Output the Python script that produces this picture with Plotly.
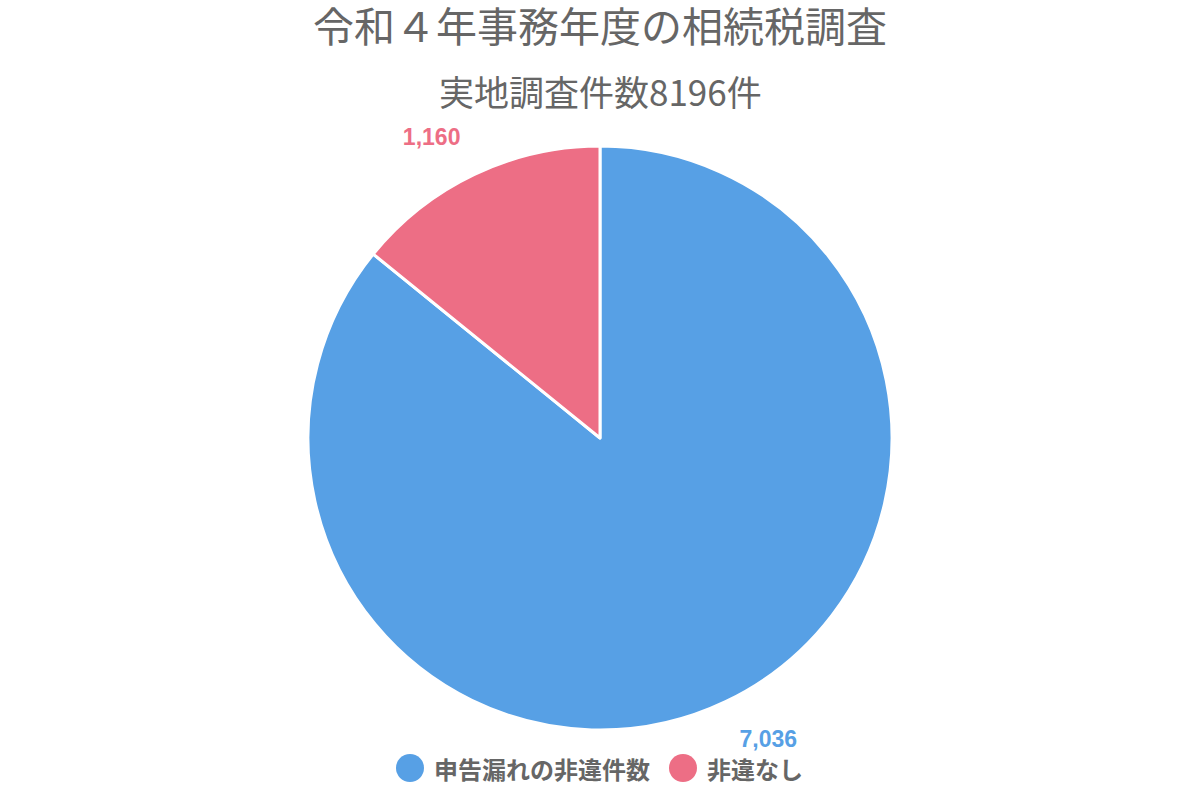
import plotly.graph_objects as go

title_text = "令和４年事務年度の相続税調査"
subtitle_text = "実地調査件数8196件"
labels = ["申告漏れの非違件数", "非違なし"]
values = [7036, 1160]
colors = ["#57A0E5", "#ED6E85"]

W, H = 1200, 800
cx, cy, r = 600, 438, 292

fig = go.Figure()
fig.add_trace(go.Pie(
    labels=labels,
    values=values,
    sort=False,
    direction="clockwise",
    rotation=0,
    marker=dict(colors=colors, line=dict(color="white", width=3)),
    # blank line pads the label away from the pie edge, like the reference
    texttemplate=[" <br>%{value:,}", "%{value:,}<br> "],
    textposition="outside",
    textfont=dict(family="Liberation Sans, Arial, sans-serif", size=23, color=colors, weight="bold"),
    showlegend=False,
    hoverinfo="label+value",
    domain=dict(x=[(cx - r) / W, (cx + r) / W], y=[1 - (cy + r) / H, 1 - (cy - r) / H]),
))

font_cjk = "Noto Sans CJK JP, sans-serif"

fig.update_layout(
    width=W, height=H,
    margin=dict(l=0, r=0, t=0, b=0),
    paper_bgcolor="white",
    plot_bgcolor="white",
    title=dict(text=title_text, x=0.5, xanchor="center", y=1 - 28 / H, yanchor="middle", yref="container",
               font=dict(family=font_cjk, size=41, color="#666666")),
    annotations=[
        dict(text=subtitle_text, x=0.5, xref="paper", y=1 - 90 / H, yref="paper", xanchor="center", yanchor="middle",
             showarrow=False, font=dict(family=font_cjk, size=35, color="#666666")),
    ],
)

# manual legend with circle markers
leg_y = 1 - 768 / H
legend_x = [410 / W, 683 / W]
shapes = []
anns = list(fig.layout.annotations)
for i, (lab, col) in enumerate(zip(labels, colors)):
    shapes.append(dict(type="circle", xref="paper", yref="paper", xsizemode="pixel", ysizemode="pixel",
                       xanchor=legend_x[i], yanchor=leg_y, x0=-14, x1=14, y0=-14, y1=14,
                       fillcolor=col, line=dict(width=0)))
    anns.append(dict(text=f"<b>{lab}</b>", x=legend_x[i] + 22 / W, xref="paper", y=leg_y, yref="paper",
                     xanchor="left", yanchor="middle", showarrow=False,
                     font=dict(family=font_cjk, size=24, color="#666666")))
fig.update_layout(shapes=shapes, annotations=anns)

fig.write_html("out.html", config={"displayModeBar": False},
               post_script="document.body.style.margin='0';")
